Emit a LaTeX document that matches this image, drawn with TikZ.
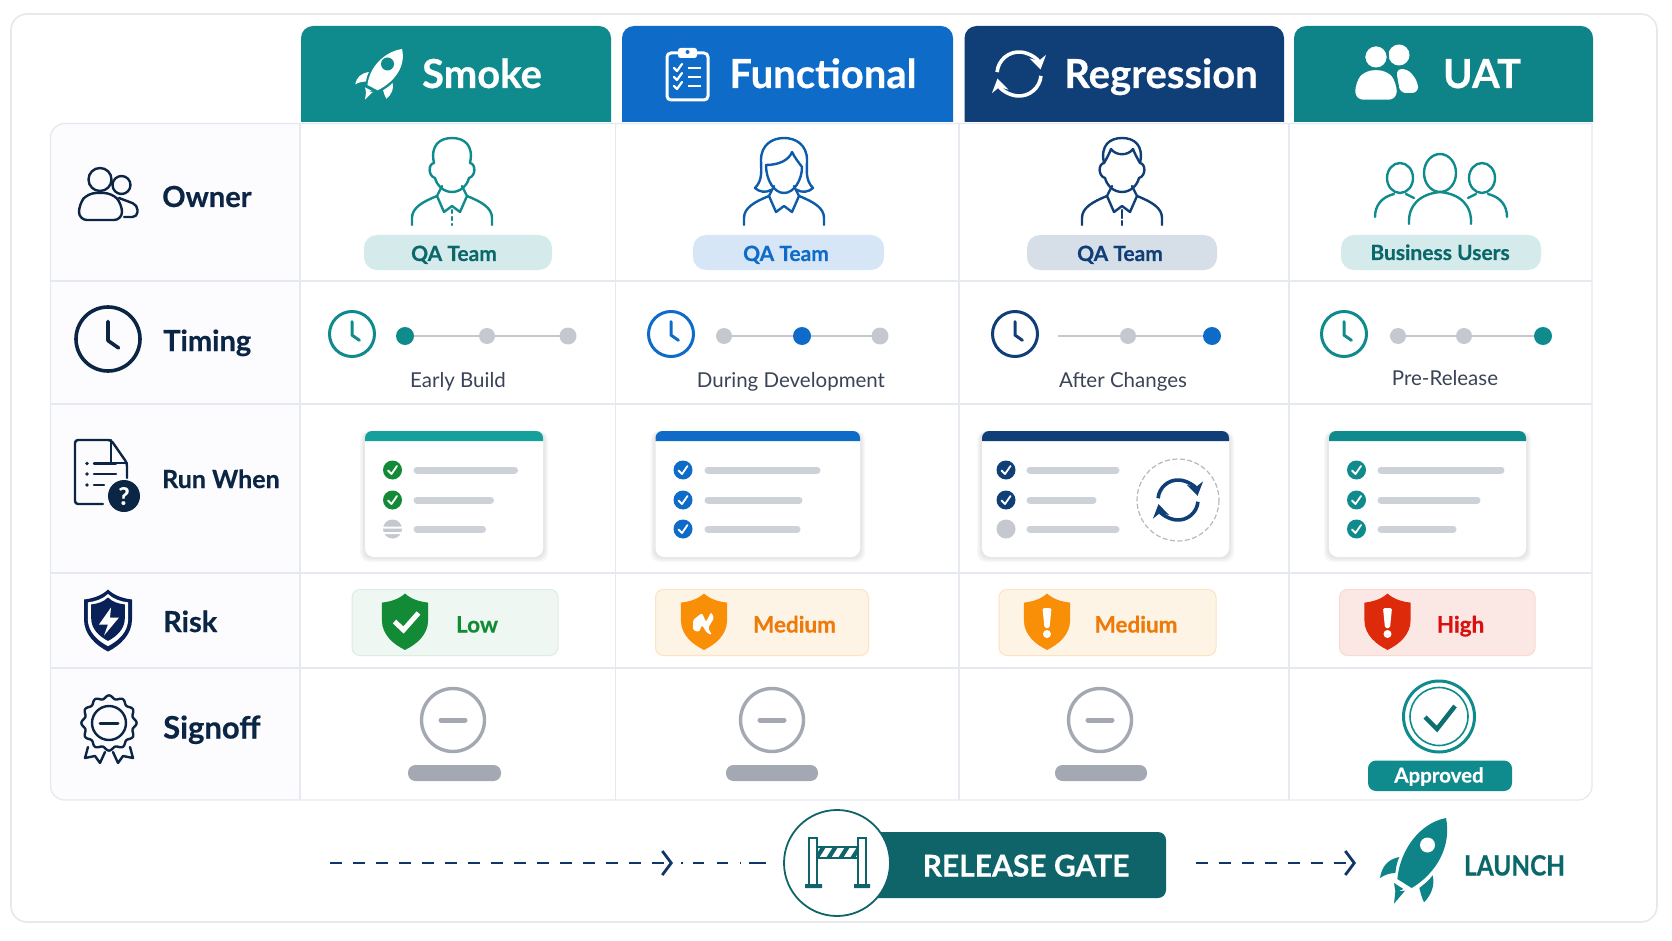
\documentclass[tikz,border=0pt]{standalone}
\usepackage{fontspec}
\setmainfont{Lato}[BoldFeatures={FakeBold=0.5}]
\usepackage{tikz}
\usetikzlibrary{arrows.meta}

\definecolor{teal1}{HTML}{0F8B8D}
\definecolor{teal2}{HTML}{0E8488}
\definecolor{tealbar}{HTML}{15A09B}
\definecolor{tealdark}{HTML}{0E6468}
\definecolor{blue1}{HTML}{0F6BC8}
\definecolor{navy1}{HTML}{103F78}
\definecolor{ink}{HTML}{0B2545}
\definecolor{gridgray}{HTML}{E6E9F0}
\definecolor{cardgray}{HTML}{E6E8EC}
\definecolor{stepgray}{HTML}{C5C8CF}
\definecolor{steptone}{HTML}{3A4456}
\definecolor{bargray}{HTML}{CDD1D8}
\definecolor{stampgray}{HTML}{A3A8B3}
\definecolor{okgreen}{HTML}{138A36}
\definecolor{warnorange}{HTML}{F98E07}
\definecolor{warntext}{HTML}{EE7A0A}
\definecolor{highred}{HTML}{DD2A0B}
\definecolor{hightext}{HTML}{D9100F}

\tikzset{
	headtext/.style={inner sep=0pt,anchor=base,text=white,font=\fontsize{40}{40}\selectfont\bfseries},
	rowtext/.style={inner sep=0pt,anchor=base west,text=ink,font=\fontsize{29}{29}\selectfont\bfseries},
	pilltext/.style={inner sep=0pt,anchor=base,font=\fontsize{21}{21}\selectfont\bfseries},
	steptext/.style={inner sep=0pt,anchor=base,text=steptone,font=\fontsize{20.5}{21}\selectfont},
	risktext/.style={inner sep=0pt,anchor=base,font=\fontsize{22.5}{24}\selectfont\bfseries},
	gridline/.style={draw=gridgray,line width=1.3pt},
	barline/.style={draw=bargray,line width=7pt,line cap=round},
	trackline/.style={draw=stepgray,line width=2.6pt},
	iconline/.style={line width=2.4pt,line cap=round,line join=round},
	flowline/.style={draw=navy1!85!black,line width=2.2pt,dash pattern=on 12pt off 11pt},
	flowtip/.style={-{Straight Barb[length=9pt,width=24pt,line width=2.8pt]}}
}

%header tab
\newcommand{\headtab}[3]{\fill[#3] (#1,122) [rounded corners=12pt] -- (#1,26) -- (#2,26) [sharp corners] -- (#2,122) -- cycle;}
%clock
\newcommand{\clockicon}[5]{\draw[#5,line width=#4,line cap=round,line join=round] (#1,#2) circle (#3) (#1,#2)+(0,-0.55*#3) -- +(0,0.05*#3) -- +(0.33*#3,0.28*#3);}
%sync arrows
\newcommand{\syncicon}[5]{
	\draw[#5,line width=#4,-{Stealth[length=3.6*#4,width=4.6*#4]}] (#1,#2)+(185:#3) arc (185:348:#3);
	\draw[#5,line width=#4,-{Stealth[length=3.6*#4,width=4.6*#4]}] (#1,#2)+(5:#3) arc (5:168:#3);
}
%check in a dot
\newcommand{\tickdot}[3]{
	\fill[#3] (#1,#2) circle (9.5);
	\draw[white,line width=1.8pt,line cap=round,line join=round] (#1-4.5,#2+0.5) -- (#1-1,#2+4) -- (#1+4.5,#2-4);
}
%list card
\newcommand{\listcard}[3]{
	\foreach \g in {5,3.5,2}{\fill[black,opacity=0.03,rounded corners=9pt] (#1-\g,431) rectangle (#2+\g,557+\g);}
	\fill[white,rounded corners=9pt] (#1,431) rectangle (#2,557);
	\fill[#3] (#1,441) [rounded corners=7pt] -- (#1,431) -- (#2,431) [sharp corners] -- (#2,441) -- cycle;
}
%shield, tip at the given point
\newcommand{\shieldpath}{(0,0) .. controls (6,6) and (15,9) .. (24,10) -- (24,30) .. controls (24,45) and (12,56) .. (0,62) .. controls (-12,56) and (-24,45) .. (-24,30) -- (-24,10) .. controls (-15,9) and (-6,6) .. (0,0) -- cycle}
\newcommand{\riskshield}[2]{\fill[#2,shift={(#1,593.5)},xscale=0.96,yscale=0.91] \shieldpath;}
\newcommand{\riskbang}[1]{
	\fill[white,rounded corners=1.5pt] (#1-4.5,608) -- (#1+4.5,608) -- (#1+2.5,628) -- (#1-2.5,628) -- cycle;
	\fill[white] (#1,634) circle (4);
}
%waiting stamp
\newcommand{\waitstamp}[3]{
	\draw[stampgray,line width=3.4pt] (#1,720) circle (31.5);
	\draw[stampgray,line width=5pt,line cap=round] (#1-12,720) -- (#1+12,720);
	\fill[stampgray,rounded corners=7.5pt] (#2,765) rectangle (#3,781);
}
%rocket, tip at the given point
\newcommand{\rocketicon}[5]{
	\begin{scope}[shift={(#1,#2)},xscale=#3/3,yscale=#4/3,shift={(-228,-25)}]
	\fill[#5] (228,25) .. controls (150,40) and (90,120) .. (82,208) -- (125,235) .. controls (200,190) and (245,110) .. (228,25) -- cycle;
	\fill[#5] (88,142) .. controls (55,148) and (35,170) .. (30,205) .. controls (45,195) and (60,190) .. (76,190) .. controls (78,170) and (82,155) .. (88,142) -- cycle;
	\fill[#5] (188,197) .. controls (175,215) and (160,225) .. (148,235) .. controls (152,250) and (155,265) .. (162,278) .. controls (185,255) and (195,225) .. (188,197) -- cycle;
	\fill[#5] (72,220) -- (100,238) -- (85,245) -- (105,243) -- (72,282) -- (76,245) -- cycle;
	\end{scope}
}
%man without hair line
\newcommand{\headpath}{(-18,33) .. controls (-22,15) and (-12,8) .. (0,8) .. controls (12,8) and (22,15) .. (18,33) .. controls (24,34) and (24,46) .. (17,48) .. controls (15,56) and (8,62) .. (0,62) .. controls (-8,62) and (-15,56) .. (-17,48) .. controls (-24,46) and (-24,34) .. (-18,33) -- cycle}
\newcommand{\shoulders}{(-40,95) -- (-40,88) .. controls (-40,78) and (-30,72) .. (-15,66) -- (-8,82) -- (0,76) -- (8,82) -- (15,66) .. controls (30,72) and (40,78) .. (40,88) -- (40,95) (-10,56) -- (-15,66) (10,56) -- (15,66)}

\begin{document}
\begin{tikzpicture}[x=1pt,y=-1pt]
\useasboundingbox (0,0) rectangle (1672,941);
\fill[white] (0,0) rectangle (1672,941);
%card
\draw[cardgray,line width=1.6pt,fill=white,rounded corners=16pt] (11,14) rectangle (1657,922);
%table
\fill[blue!1!white,rounded corners=14pt] (50.5,123.5) rectangle (300,800);
\fill[blue!1!white] (280,123.5) rectangle (300,800);
\draw[gridline] (1592,123.5) [rounded corners=14pt] -- (50.5,123.5) -- (50.5,800) -- (1592,800) [sharp corners] -- cycle;
\foreach \x in {300,615.5,959,1289}{\draw[gridline,line width=1.1pt] (\x,123.5) -- (\x,800);}
\foreach \y in {281,404,573,668}{\draw[gridline] (50.5,\y) -- (1592,\y);}

%FIRST ROW, tabs
\headtab{301}{611}{teal1}
\headtab{622}{953}{blue1}
\headtab{964.5}{1284}{navy1}
\headtab{1294}{1593}{teal2}
\node[headtext] (smoke) at (482,88) {Smoke};
\node[headtext] (functional) at (823,88) {Functional};
\node[headtext] (regression) at (1161,88) {Regression};
\node[headtext] (uat) at (1482,88) {UAT};
\rocketicon{402}{49}{0.71}{0.59}{white}
\fill[teal1] (387.5,64) circle (6.5);
%clipboard
\draw[white,line width=3pt,rounded corners=4pt] (667,53) rectangle (708,100);
\fill[white,rounded corners=2.5pt] (678,48) rectangle (697,58);
\fill[blue1] (687.5,52) circle (2);
\foreach \y in {68,77,86}{
	\draw[white,line width=2.2pt,line cap=round,line join=round] (674,\y) -- (677,\y+3) -- (682,\y-4);
	\draw[white,line width=2.6pt] (688,\y) -- (701,\y);
}
\syncicon{1019}{74}{22}{3.6pt}{white}
%two users
\fill[white] (1399,55) circle (10.5);
\fill[white,rounded corners=6pt] (1396,69) -- (1408,69) -- (1418,82) -- (1418,93) -- (1400,93) -- cycle;
\draw[teal2,line width=2.5pt,fill=white] (1376,57) circle (12);
\draw[teal2,line width=2.5pt,fill=white,rounded corners=9pt] (1354,101) -- (1354,82) -- (1364,69) -- (1388,69) -- (1398,82) -- (1398,101) -- cycle;

%Owner
\node[rowtext] (ownerlabel) at (162,207) {Owner};
\begin{scope}[draw=ink,iconline]
	\draw (121.5,185) circle (9);
	\draw[rounded corners=5pt] (119,198) -- (137.5,205) -- (137.5,217) -- (124,217);
	\draw[fill=blue!1!white] (100,179.5) circle (11.5);
	\draw[fill=blue!1!white,rounded corners=8pt] (79,220) -- (79,204) -- (88,193) -- (112,193) -- (122,204) -- (122,220) -- cycle;
\end{scope}
\begin{scope}[shift={(452,130)},draw=teal1,iconline]
	\draw \headpath;
	\draw \shoulders;
	\draw[dash pattern=on 3pt off 4pt] (0,80) -- (0,95);
\end{scope}
\begin{scope}[shift={(784,130)},draw=blue1!85!black,iconline]
	\draw (-29,58) .. controls (-21,50) and (-23,40) .. (-23,30) .. controls (-23,15) and (-12,8) .. (0,8) .. controls (12,8) and (23,15) .. (23,30) .. controls (23,40) and (21,50) .. (29,58) .. controls (25,62) and (18,63) .. (13,60);
	\draw (-29,58) .. controls (-25,62) and (-18,63) .. (-13,60);
	\draw (-18,35) .. controls (-5,35) and (5,30) .. (8,22) .. controls (11,28) and (15,33) .. (18,37) .. controls (18,50) and (10,63) .. (0,63) .. controls (-10,63) and (-18,50) .. (-18,35) -- cycle;
	\draw \shoulders;
\end{scope}
\begin{scope}[shift={(1122,130)},draw=navy1,iconline]
	\draw \headpath;
	\draw (-18,33) .. controls (-15,28) and (-12,22) .. (-11,19) .. controls (-6,26) and (6,26) .. (11,19) .. controls (12,22) and (15,28) .. (18,33);
	\draw \shoulders;
	\draw[dash pattern=on 8pt off 3pt] (0,80) -- (0,95);
\end{scope}
%users
\begin{scope}[draw=teal1,iconline]
	\draw (1440,173) ellipse (16 and 19);
	\draw (1409,224) .. controls (1408,205) and (1420,194) .. (1440,192) .. controls (1460,194) and (1472,205) .. (1471,224);
	\draw (1400,178) ellipse (13 and 15);
	\draw (1375,217) .. controls (1375,205) and (1382,197) .. (1394,194);
	\draw (1406,194) -- (1414,198);
	\draw (1482,178) ellipse (13 and 15);
	\draw (1507,217) .. controls (1507,205) and (1500,197) .. (1488,194);
	\draw (1476,194) -- (1468,198);
\end{scope}
\fill[teal1!18!white,rounded corners=13pt] (364,235) rectangle (552,270);
\node[pilltext,text=teal1!75!black] (ownerone) at (454,261) {QA Team};
\fill[blue1!17!white,rounded corners=13pt] (693,235) rectangle (884,270);
\node[pilltext,text=blue1] (ownertwo) at (786,261) {QA Team};
\fill[navy1!17!white,rounded corners=13pt] (1027,235) rectangle (1217,270);
\node[pilltext,text=navy1] (ownerthree) at (1120,261) {QA Team};
\fill[teal1!18!white,rounded corners=13pt] (1341,235) rectangle (1541,270);
\node[pilltext,text=teal1!75!black] (ownerfour) at (1440,260) {Business Users};

%Timing
\node[rowtext] (timinglabel) at (163,351) {Timing};
\clockicon{108}{339}{32}{3.6pt}{ink}
\clockicon{352}{334}{22.5}{3pt}{teal1}
\clockicon{671}{334}{22.5}{3pt}{blue1}
\clockicon{1015}{334}{22.5}{3pt}{navy1}
\clockicon{1344}{334}{22.5}{3pt}{teal1}
\draw[trackline] (405,336) -- (568,336);
\fill[stepgray] (487,336) circle (8) (568,336) circle (8.5);
\fill[teal1] (405,336) circle (9);
\draw[trackline] (724,336) -- (880,336);
\fill[stepgray] (724,336) circle (8) (880,336) circle (8.5);
\fill[blue1] (802,336) circle (9);
\draw[trackline] (1058,336) -- (1212,336);
\fill[stepgray] (1128,336) circle (8);
\fill[blue1] (1212,336) circle (9);
\draw[trackline] (1398,336) -- (1543,336);
\fill[stepgray] (1398,336) circle (8) (1464,336) circle (8);
\fill[teal1] (1543,336) circle (9);
\node[steptext] (earlybuild) at (458,387) {Early Build};
\node[steptext] (duringdev) at (791,387) {During Development};
\node[steptext] (afterchanges) at (1123,387) {After Changes};
\node[steptext] (prerelease) at (1445,385) {Pre-Release};

%Run When
\node[rowtext,font=\fontsize{25}{25}\selectfont\bfseries] (runlabel) at (162,488) {Run When};
\begin{scope}[draw=ink,iconline]
	\draw[rounded corners=3pt] (103,504) -- (75,504) -- (75,440) -- (111,440) -- (127,463) -- (127,478);
	\draw (111,440) -- (111,463) -- (127,463);
	\foreach \y/\e in {463.5/116,474/116,485/104}{
		\fill[ink] (87,\y) circle (1.8);
		\draw (94,\y) -- (\e,\y);
	}
\end{scope}
\fill[ink] (124,496) circle (16);
\node[inner sep=0pt,text=white,font=\fontsize{24}{24}\selectfont\bfseries] (runmark) at (124,496) {?};
\listcard{365}{543}{tealbar}
\listcard{655.5}{860}{blue1}
\listcard{982}{1229}{navy1}
\listcard{1329}{1526}{teal1}
\foreach \y/\e in {470/514.5,500/490.5,529/482.5}{\draw[barline] (417,\y) -- (\e,\y);}
\tickdot{392.5}{470}{okgreen}
\tickdot{392.5}{500}{okgreen}
\fill[stepgray] (392.5,529) circle (9.5);
\fill[white] (382,526.5) rectangle (403,528.5) (382,532) rectangle (403,534);
\foreach \y/\e in {470/817,500/799,529/797}{
	\draw[barline] (708,\y) -- (\e,\y);
	\tickdot{683}{\y}{blue1}
}
\foreach \y/\e in {470/1116,500/1093,529/1116}{\draw[barline] (1030,\y) -- (\e,\y);}
\tickdot{1006}{470}{navy1}
\tickdot{1006}{500}{navy1}
\fill[stepgray] (1006,529) circle (9.5);
\draw[stampgray!80,line width=1.2pt,dash pattern=on 5pt off 2.5pt] (1178,500) circle (41);
\syncicon{1178}{500}{20}{3.6pt}{navy1}
\foreach \y/\e in {470/1501,500/1477,529/1453}{
	\draw[barline] (1381,\y) -- (\e,\y);
	\tickdot{1356.5}{\y}{teal1}
}

%Risk
\node[rowtext] (risklabel) at (163,632) {Risk};
\begin{scope}[shift={(108,589.5)}]
	\fill[ink!90!blue] \shieldpath;
	\fill[white,shift={(0,4.5)},scale=0.84] \shieldpath;
	\fill[ink!90!blue,shift={(0,8)},scale=0.7] \shieldpath;
	\fill[white] (3,18) -- (-9,35) -- (0,35) -- (-4,46) -- (11,28) -- (2,28) -- cycle;
\end{scope}
\draw[okgreen!15!white,fill=okgreen!7!white,line width=1pt,rounded corners=8pt] (352,589.5) rectangle (558,655.5);
\draw[warnorange!25!white,fill=warnorange!10!white,line width=1pt,rounded corners=8pt] (655.5,589.5) rectangle (868.5,655.5);
\draw[warnorange!25!white,fill=warnorange!10!white,line width=1pt,rounded corners=8pt] (999,589.5) rectangle (1216,655.5);
\draw[highred!18!white,fill=highred!11!white,line width=1pt,rounded corners=8pt] (1339.5,589.5) rectangle (1535,655.5);
\riskshield{405}{okgreen}
\draw[white,line width=5pt,line join=miter] (394.5,621.5) -- (403.5,630) -- (418.5,613);
\riskshield{704}{warnorange}
\fill[white,rounded corners=1.5pt] (693,620) -- (702,613) -- (706,622) -- (711,612) -- (714,618) -- (708,628) -- (712,635) -- (707,633) -- (702,625) -- (699,632) -- (693,630) -- cycle;
\riskshield{1047}{warnorange}
\riskbang{1047}
\riskshield{1387.5}{highred}
\riskbang{1387.5}
\node[risktext,text=okgreen] (risklow) at (477,632.5) {Low};
\node[risktext,text=warntext] (riskmedone) at (794.5,632.5) {Medium};
\node[risktext,text=warntext] (riskmedtwo) at (1136,632.5) {Medium};
\node[risktext,text=hightext] (riskhigh) at (1460.5,632.5) {High};

%Signoff
\node[rowtext,font=\fontsize{31}{31}\selectfont\bfseries] (signofflabel) at (163,738.5) {Signoff};
\begin{scope}[draw=ink,iconline]
	\draw plot[domain=0:360,samples=145,smooth] ({109+(26+1.6*cos(12*\x))*cos(\x)},{723+(26+1.6*cos(12*\x))*sin(\x)});
	\draw (109,723) circle (17);
	\draw[line width=3pt] (100,723) -- (118,723);
	\draw (88,747) -- (85,758) -- (95,756) -- (100,763) -- (105,752);
	\draw (130,747) -- (133,758) -- (123,756) -- (118,763) -- (113,752);
\end{scope}
\waitstamp{453}{408}{501}
\waitstamp{772}{726}{818}
\waitstamp{1100}{1055}{1147}
\draw[teal1,line width=3pt] (1439,716.5) circle (35.5);
\draw[teal1,line width=1.6pt] (1439,716.5) circle (29);
\draw[teal1!80!black,line width=4.5pt,line join=miter] (1425,717) -- (1437,729) -- (1455,706);
\fill[teal1,rounded corners=8pt] (1368,760.5) rectangle (1512,791);
\node[inner sep=0pt,anchor=base,text=white,font=\fontsize{20.5}{21}\selectfont\bfseries] (approved) at (1439,782.5) {Approved};

%gate
\node[fill=tealdark,rounded corners=8pt,minimum width=306pt,minimum height=66pt] (gatebar) at (1013,865) {};
\node[circle,draw=tealdark,line width=1.8pt,fill=white,inner sep=0pt,minimum size=106pt] (gatering) at (837,863) {};
\node[inner sep=0pt,anchor=base,text=white,font=\fontsize{30}{30}\selectfont\bfseries] (gatetext) at (1026,876.5) {RELEASE GATE};
\begin{scope}
	\clip (817,847) rectangle (858,858);
	\foreach \x in {814,826,838,850}{\fill[tealdark] (\x,858) -- (\x+5,858) -- (\x+12,847) -- (\x+7,847) -- cycle;}
\end{scope}
\draw[tealdark,line width=2pt] (817,847) rectangle (858,858);
\draw[tealdark,line width=2.2pt,fill=white] (809,838) rectangle (817,885);
\draw[tealdark,line width=2.2pt,fill=white] (858,838) rectangle (866,885);
\fill[tealdark] (805,884) rectangle (822,888) (854,884) rectangle (870,888);

%flow
\coordinate (flowstart) at (330,863);
\coordinate (flowmark) at (673,863);
\coordinate (flowgo) at (681,863);
\coordinate (flowend) at (766,863);
\coordinate (launchstart) at (1195.5,863);
\coordinate (launchend) at (1356,863);
\draw[flowline,flowtip] (flowstart) -- (flowmark);
\draw[flowline,dash pattern=on 1.5pt off 10.5pt on 11pt off 13pt on 11pt off 12pt on 1pt off 8pt on 17pt off 30pt] (flowgo) -- (flowend);
\draw[flowline,flowtip] (launchstart) -- (launchend);
\rocketicon{1446}{818}{1}{1}{teal2}
\fill[white] (1427.5,845) circle (7.5);
\node[inner sep=0pt,anchor=base,text=teal1!75!black,xscale=0.87,transform shape,font=\fontsize{28}{28}\selectfont\bfseries] (launch) at (1514.5,875.5) {LAUNCH};
\end{tikzpicture}
\end{document}
